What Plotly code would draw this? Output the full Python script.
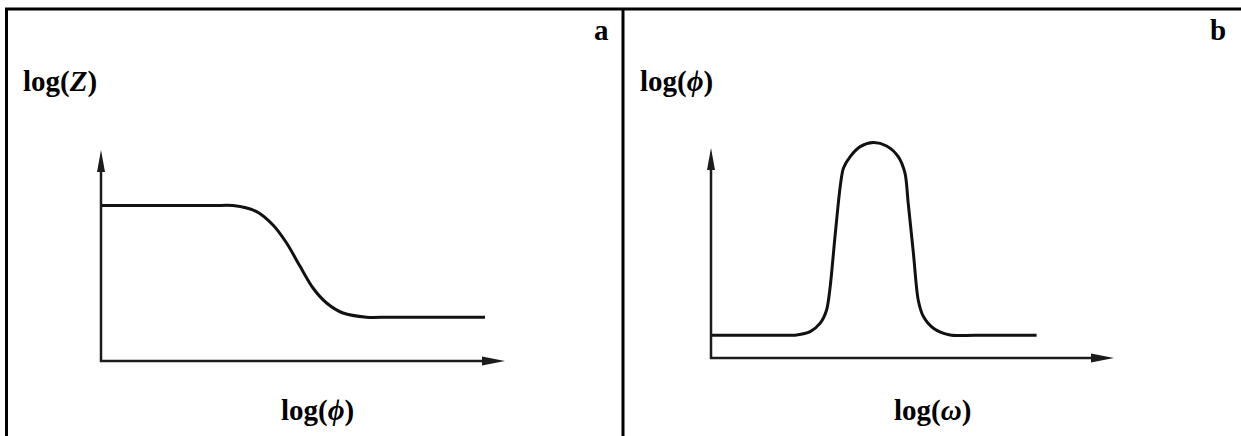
import plotly.graph_objects as go

# ---------------- data (schematic values) ----------------
# Panel a: log(Z) versus log(phi)
a_x = [0.00, 2.80, 3.30, 3.89, 4.30, 4.64, 4.98, 5.30, 5.64, 6.05, 6.64, 7.20, 9.60]
a_y = [7.77, 7.77, 7.77, 7.47, 6.80, 5.90, 4.72, 3.65, 2.90, 2.40, 2.19, 2.19, 2.19]

# Panel b: log(phi) versus log(omega)
b_x = [0.00, 1.60, 2.14, 2.48, 2.73, 2.89, 2.98, 3.10, 3.23, 3.31, 3.48, 3.73, 4.06,
       4.39, 4.68, 4.85, 4.93, 5.06, 5.18, 5.31, 5.56, 5.98, 6.60, 8.14]
b_y = [1.14, 1.14, 1.15, 1.32, 1.74, 2.40, 3.57, 6.07, 8.57, 9.49, 10.07, 10.57, 10.77,
       10.60, 10.07, 9.24, 7.74, 5.24, 2.90, 2.07, 1.49, 1.15, 1.14, 1.14]

# axis extents (data units) of the arrowed axes
a_axis_x_tip, a_axis_y_tip = 10.10, 10.55
b_axis_x_tip, b_axis_y_tip = 10.075, 10.50

# text
panel_letters = ["a", "b"]
a_ylabel = "<b>log(<i>Z</i>)</b>"
a_xlabel = "<b>log(<i>ϕ</i>)</b>"
b_ylabel = "<b>log(<i>ϕ</i>)</b>"
b_xlabel = "<b>log(<i>ω</i>)</b>"

# ---------------- layout geometry ----------------
W, H = 1241, 436
PX_X, PX_Y = 40.0, 20.0          # pixels per data unit
FONT = "Liberation Serif, DejaVu Serif, Times New Roman, serif"
LINE_COL = "#1c1c1c"
CURVE_COL = "#111111"


def axis_setup(origin_px, origin_py, left, right, top, bottom):
    xdom = [left / W, right / W]
    ydom = [1 - bottom / H, 1 - top / H]
    xr = [(left - origin_px) / PX_X, (right - origin_px) / PX_X]
    yr = [(origin_py - bottom) / PX_Y, (origin_py - top) / PX_Y]
    return xdom, ydom, xr, yr


a_dom = axis_setup(101, 361, 12, 616, 14, 436)
b_dom = axis_setup(711, 358, 628, 1238, 14, 436)

fig = go.Figure()
fig.add_trace(go.Scatter(x=a_x, y=a_y, mode="lines", xaxis="x", yaxis="y",
                         line=dict(color=CURVE_COL, width=3, shape="spline", smoothing=0.8),
                         hoverinfo="skip", showlegend=False))
fig.add_trace(go.Scatter(x=b_x, y=b_y, mode="lines", xaxis="x2", yaxis="y2",
                         line=dict(color=CURVE_COL, width=3, shape="spline", smoothing=0.8),
                         hoverinfo="skip", showlegend=False))

hidden = dict(visible=False, showgrid=False, zeroline=False, fixedrange=True)
layout = dict(
    width=W, height=H, autosize=False,
    margin=dict(l=0, r=0, t=0, b=0),
    paper_bgcolor="white", plot_bgcolor="white",
    hovermode=False,
    xaxis=dict(domain=a_dom[0], range=a_dom[2], anchor="y", **hidden),
    yaxis=dict(domain=a_dom[1], range=a_dom[3], anchor="x", **hidden),
    xaxis2=dict(domain=b_dom[0], range=b_dom[2], anchor="y2", **hidden),
    yaxis2=dict(domain=b_dom[1], range=b_dom[3], anchor="x2", **hidden),
)
fig.update_layout(**layout)

shapes = []
# frame: top rule, left rule, divider
for (x0, y0, x1, y1) in [(5, 9, W, 9), (6.5, 9, 6.5, H), (623, 9, 623, H)]:
    shapes.append(dict(type="line", xref="paper", yref="paper",
                       x0=x0 / W, x1=x1 / W, y0=1 - y0 / H, y1=1 - y1 / H,
                       line=dict(color="black", width=3)))


def add_axes(xr, yr, xtip, ytip):
    # L-shaped axis lines, stopping inside the arrowheads
    shapes.append(dict(type="path", xref=xr, yref=yr,
                       path=f"M 0,{ytip - 12 / PX_Y} L 0,0 L {xtip - 12 / PX_X},0",
                       line=dict(color=LINE_COL, width=2.5),
                       fillcolor="rgba(0,0,0,0)"))
    # arrowhead on x axis (pointing right)
    shapes.append(dict(type="path", xref=xr, yref=yr,
                       xsizemode="pixel", ysizemode="pixel",
                       xanchor=xtip, yanchor=0,
                       path="M 0,0 L -23,4.5 L -23,-4.5 Z",
                       line=dict(width=0), fillcolor=LINE_COL))
    # arrowhead on y axis (pointing up)
    shapes.append(dict(type="path", xref=xr, yref=yr,
                       xsizemode="pixel", ysizemode="pixel",
                       xanchor=0, yanchor=ytip,
                       path="M 0,0 L -4,-22 L 4,-22 Z",
                       line=dict(width=0), fillcolor=LINE_COL))


add_axes("x", "y", a_axis_x_tip, a_axis_y_tip)
add_axes("x2", "y2", b_axis_x_tip, b_axis_y_tip)

fig.update_layout(shapes=shapes)

font = dict(family=FONT, size=29, color="black")
ann = []


def text(s, px, py, xanchor):
    ann.append(dict(text=s, xref="paper", yref="paper", x=px / W, y=1 - py / H,
                    xanchor=xanchor, yanchor="middle", showarrow=False, font=font))


text(f"<b>{panel_letters[0]}</b>", 611, 30, "right")
text(f"<b>{panel_letters[1]}</b>", 1228, 30, "right")
text(a_ylabel, 21, 82, "left")
text(b_ylabel, 638, 82, "left")
text(a_xlabel, 317, 410, "center")
text(b_xlabel, 932, 410, "center")
fig.update_layout(annotations=ann)

fig.write_html(
    "out.html",
    config={"displayModeBar": False, "staticPlot": True},
    post_script="document.body.style.margin='0';document.body.style.overflow='hidden';",
)
